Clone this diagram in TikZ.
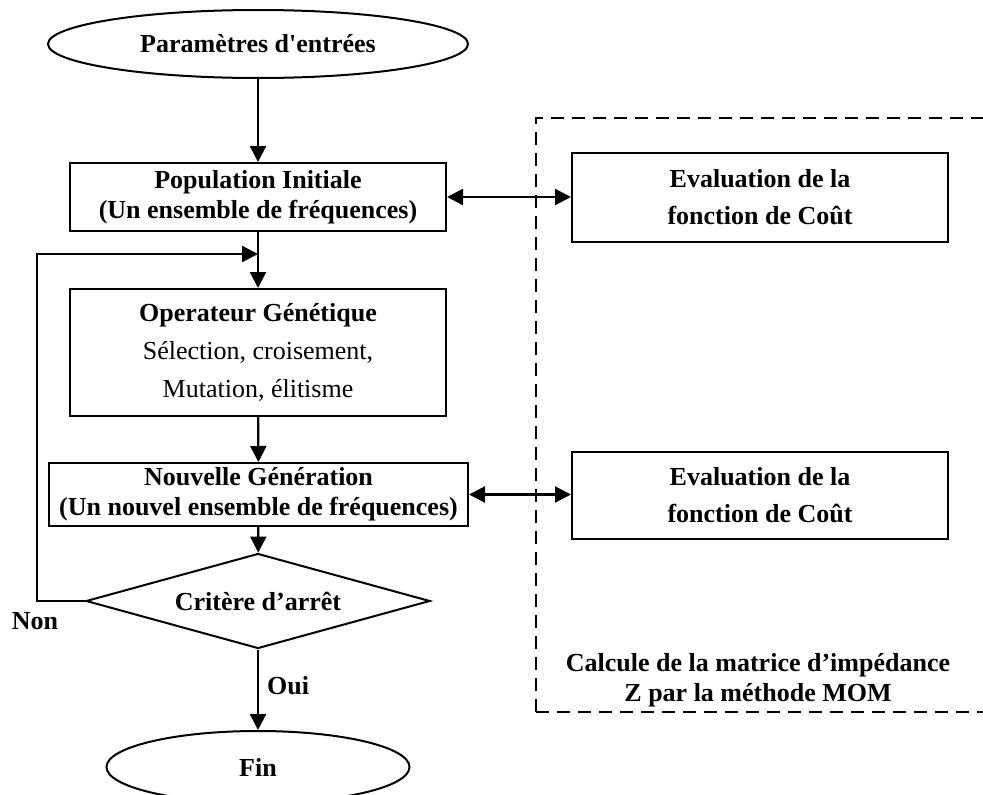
\documentclass[tikz,border=0pt]{standalone}
\usepackage{fontspec}
\setmainfont{Liberation Serif}
\usetikzlibrary{shapes.geometric,arrows.meta,calc}

\begin{document}
\begin{tikzpicture}[x=1pt,y=-1pt,
  every node/.style={font=\fontsize{26}{30}\selectfont\bfseries, align=center, inner sep=0pt},
  procbox/.style={draw, rectangle, line width=2pt},
  termbox/.style={draw, ellipse, line width=2pt},
  decbox/.style={draw, diamond, aspect=3.6, line width=2pt},
  flow/.style={line width=2.2pt, -{Triangle[length=16pt,width=16pt]}},
  both/.style={line width=2.2pt, {Triangle[length=16pt,width=16pt]}-{Triangle[length=16pt,width=16pt]}},
  zone/.style={line width=1.8pt, dash pattern=on 13pt off 8pt}
]
\useasboundingbox (0,0) rectangle (983,795);
\clip (0,0) rectangle (983,795);

% dashed frame around the impedance computation
\draw[zone] (536,712) -- (536,118) -- (995,118);
\draw[zone] (536,712) -- (995,712);

% main flow
\node[termbox, minimum width=420pt, minimum height=68pt] (start) at (258,44) {Paramètres d\textquotesingle entrées};
\node[procbox, minimum width=376pt, minimum height=68pt] (pop) at (258,197) {Population Initiale\\(Un ensemble de fréquences)};
\node[procbox, minimum width=376pt, minimum height=127pt, font=\fontsize{26}{38}\selectfont\bfseries] (op) at (258,352.5)
  {Operateur Génétique\\\mdseries Sélection, croisement,\\\mdseries Mutation, élitisme};
\node[procbox, minimum width=419pt, minimum height=63pt] (nouv) at (258.5,494.5) {Nouvelle Génération\\(Un nouvel ensemble de fréquences)};
\node[decbox, minimum width=344pt, minimum height=95pt] (crit) at (258,601) {Critère d’arrêt};
\node[termbox, minimum width=303pt, minimum height=72pt] (fin) at (258,767) {Fin};

% cost evaluation boxes
\node[procbox, minimum width=376pt, minimum height=89pt, font=\fontsize{26}{37}\selectfont\bfseries] (ev1) at (760,197.5) {Evaluation de la\\fonction de Coût};
\node[procbox, minimum width=376pt, minimum height=87pt, font=\fontsize{26}{37}\selectfont\bfseries] (ev2) at (760,495.5) {Evaluation de la\\fonction de Coût};

\node (mom) at (758,680) {Calcule de la matrice d’impédance\\Z par la méthode MOM};

% loop-back coordinates
\coordinate (loopc) at (37,254);
\coordinate (merge) at (258,254);

% connectors
\draw[flow] (start) -- (pop);
\draw[flow] (pop) -- (op);
\draw[flow] (op) -- (nouv);
\draw[flow] (nouv) -- (crit);
\draw[flow] (crit.south) -- node[right=8pt, pos=0.45] (oui) {Oui} (fin.north);
\draw[flow] (crit.west) -| (loopc) -- (merge);
\draw[both] (pop.east) -- (pop.east -| ev1.west);
\draw[both] (nouv.east) -- (nouv.east -| ev2.west);

\node (non) at (35,621) {Non};
\end{tikzpicture}
\end{document}
